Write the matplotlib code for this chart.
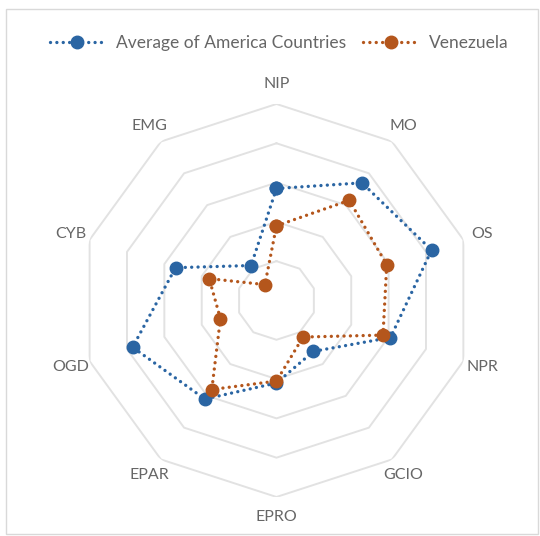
import numpy as np
import matplotlib
matplotlib.use("Agg")
import matplotlib.pyplot as plt
from matplotlib.patches import Rectangle

plt.rcParams['font.family'] = ['Lato', 'DejaVu Sans']

categories = ["NIP", "MO", "OS", "NPR", "GCIO", "EPRO", "EPAR", "OGD", "CYB", "EMG"]
america_avg = [0.57, 0.74, 0.83, 0.61, 0.32, 0.42, 0.62, 0.77, 0.54, 0.22]
venezuela = [0.38, 0.63, 0.59, 0.57, 0.23, 0.41, 0.56, 0.30, 0.36, 0.10]
series_names = ["Average of America Countries", "Venezuela"]
colors = ["#2A65A3", "#B4561C"]

n = len(categories)
# clockwise from the top
theta = np.pi / 2 - np.arange(n) * 2 * np.pi / n

fig = plt.figure(figsize=(5.4, 5.36), dpi=100)
fig.patches.append(Rectangle((0.011, 0.004), 0.985, 0.98, transform=fig.transFigure,
                             fill=False, edgecolor="#D9D9D9", linewidth=1))

ax = fig.add_axes([0.1481, 0.0728, 0.7278, 0.7332], projection="polar")
ax.set_ylim(0, 1)
ax.axis("off")

# decagon grid
tt = np.append(theta, theta[0])
for r in [0.2, 0.4, 0.6, 0.8, 1.0]:
    ax.plot(tt, [r] * (n + 1), color="#E2E2E2", linewidth=1.4, zorder=1)

for vals, name, col in zip([america_avg, venezuela], series_names, colors):
    v = np.append(vals, vals[0])
    ax.plot(tt, v, color=col, linestyle=(0, (0.01, 1.9)), linewidth=2.4,
            dash_capstyle="round", marker="o", markersize=9, label=name, zorder=3)

for t, lab in zip(theta, categories):
    ax.text(t, 1.1, lab, ha="center", va="center", fontsize=11.5, color="#666666")

fig.legend(loc="center", bbox_to_anchor=(0.517, 1 - 43 / 536), ncol=2, frameon=False,
           fontsize=12.5, labelcolor="#666666", handlelength=3.2, columnspacing=1.0,
           handletextpad=0.6)

fig.savefig("out.png", dpi=100)
